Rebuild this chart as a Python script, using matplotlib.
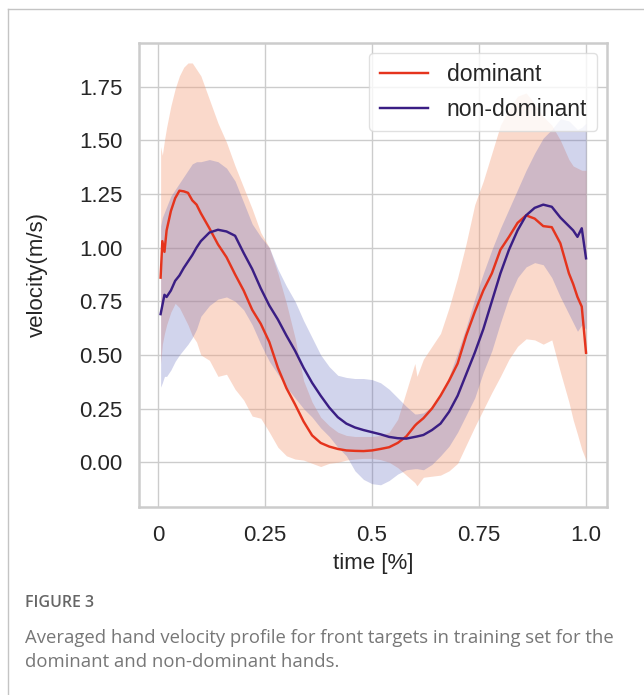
import matplotlib
matplotlib.use("Agg")
import matplotlib.pyplot as plt
from matplotlib.lines import Line2D
import numpy as np

# ---------------- data ----------------
t = [0.006, 0.01, 0.015, 0.02, 0.03, 0.04, 0.05, 0.06, 0.07, 0.08, 0.09, 0.10,
     0.12, 0.14, 0.16, 0.18, 0.20, 0.22, 0.24, 0.26, 0.28, 0.30, 0.32, 0.34,
     0.36, 0.38, 0.40, 0.42, 0.44, 0.46, 0.48, 0.50, 0.52, 0.54, 0.56, 0.58,
     0.60, 0.605, 0.62, 0.64, 0.66, 0.68, 0.70, 0.72, 0.74, 0.76, 0.78, 0.80,
     0.82, 0.84, 0.86, 0.88, 0.90, 0.92, 0.94, 0.96, 0.97, 0.98, 0.99, 1.0]

dom_mean = [0.86, 1.03, 0.98, 1.08, 1.17, 1.23, 1.265, 1.262, 1.255, 1.22, 1.20, 1.16,
            1.09, 1.015, 0.955, 0.875, 0.80, 0.71, 0.645, 0.56, 0.44, 0.345, 0.27, 0.19,
            0.125, 0.09, 0.073, 0.062, 0.055, 0.053, 0.052, 0.055, 0.062, 0.07, 0.09, 0.12,
            0.17, 0.18, 0.205, 0.25, 0.31, 0.38, 0.46, 0.59, 0.70, 0.80, 0.88, 0.99,
            1.05, 1.115, 1.15, 1.135, 1.10, 1.095, 1.02, 0.88, 0.83, 0.77, 0.725, 0.51]

dom_upper = [1.47, 1.43, 1.50, 1.56, 1.66, 1.74, 1.80, 1.84, 1.86, 1.86, 1.83, 1.80,
             1.69, 1.58, 1.49, 1.38, 1.28, 1.18, 1.07, 1.00, 0.88, 0.74, 0.58, 0.38,
             0.28, 0.21, 0.17, 0.14, 0.125, 0.12, 0.12, 0.12, 0.125, 0.14, 0.20, 0.33,
             0.46, 0.40, 0.48, 0.54, 0.60, 0.72, 0.86, 1.02, 1.20, 1.31, 1.44, 1.57,
             1.645, 1.705, 1.72, 1.67, 1.61, 1.57, 1.50, 1.41, 1.38, 1.37, 1.36, 1.36]

dom_lower = [0.46, 0.55, 0.60, 0.64, 0.70, 0.74, 0.72, 0.68, 0.64, 0.59, 0.56, 0.50,
             0.475, 0.40, 0.41, 0.34, 0.29, 0.215, 0.205, 0.14, 0.07, 0.03, 0.015, 0.01,
             -0.005, -0.02, -0.005, 0.0, 0.01, 0.015, 0.018, 0.018, 0.012, 0.0, -0.025, -0.06,
             -0.095, -0.11, -0.07, -0.065, -0.06, -0.04, -0.005, 0.08, 0.165, 0.245, 0.325, 0.40,
             0.48, 0.54, 0.575, 0.57, 0.55, 0.57, 0.42, 0.28, 0.197, 0.13, 0.06, 0.01]

nondom_mean = [0.69, 0.73, 0.78, 0.77, 0.80, 0.845, 0.87, 0.905, 0.935, 0.965, 1.00, 1.03,
               1.07, 1.083, 1.075, 1.055, 0.975, 0.90, 0.81, 0.73, 0.665, 0.59, 0.52, 0.44,
               0.37, 0.31, 0.255, 0.21, 0.18, 0.162, 0.15, 0.14, 0.13, 0.118, 0.112, 0.11,
               0.118, 0.12, 0.127, 0.15, 0.18, 0.235, 0.31, 0.41, 0.51, 0.62, 0.75, 0.88,
               0.99, 1.08, 1.15, 1.185, 1.20, 1.19, 1.14, 1.10, 1.08, 1.05, 1.09, 0.95]

nondom_upper = [1.10, 1.14, 1.165, 1.19, 1.24, 1.27, 1.30, 1.33, 1.36, 1.39, 1.40, 1.40,
                1.41, 1.40, 1.37, 1.31, 1.21, 1.11, 1.05, 1.00, 0.90, 0.82, 0.75, 0.66,
                0.58, 0.50, 0.445, 0.405, 0.395, 0.39, 0.39, 0.385, 0.37, 0.34, 0.30, 0.26,
                0.225, 0.225, 0.23, 0.26, 0.31, 0.40, 0.51, 0.63, 0.76, 0.88, 0.99, 1.09,
                1.18, 1.27, 1.36, 1.44, 1.51, 1.55, 1.60, 1.59, 1.57, 1.55, 1.56, 1.58]

nondom_lower = [0.35, 0.37, 0.40, 0.40, 0.43, 0.47, 0.50, 0.525, 0.55, 0.58, 0.62, 0.68,
                0.73, 0.76, 0.77, 0.75, 0.71, 0.64, 0.55, 0.47, 0.41, 0.35, 0.30, 0.25,
                0.21, 0.16, 0.12, 0.07, 0.03, -0.04, -0.08, -0.10, -0.105, -0.085, -0.055, -0.035,
                -0.03, -0.03, -0.035, -0.01, 0.03, 0.075, 0.14, 0.22, 0.30, 0.42, 0.52, 0.65,
                0.77, 0.86, 0.91, 0.93, 0.92, 0.86, 0.77, 0.69, 0.65, 0.61, 0.64, 0.62]

x_ticks = [0, 0.25, 0.5, 0.75, 1.0]
x_tick_labels = ["0", "0.25", "0.5", "0.75", "1.0"]
y_ticks = [0.0, 0.25, 0.5, 0.75, 1.0, 1.25, 1.5, 1.75]
y_tick_labels = ["0.00", "0.25", "0.50", "0.75", "1.00", "1.25", "1.50", "1.75"]
series_labels = ["dominant", "non-dominant"]

# ---------------- styling ----------------
W, H = 644, 695
plt.rcParams['font.family'] = ['Liberation Sans', 'DejaVu Sans']
fig = plt.figure(figsize=(W / 100, H / 100), dpi=100)
fig.patch.set_facecolor('white')

ax_l, ax_r, ax_t, ax_b = 139, 607, 43, 507
ax = fig.add_axes([ax_l / W, 1 - ax_b / H, (ax_r - ax_l) / W, (ax_b - ax_t) / H])

red = '#e5341d'
purple = '#3a1e84'
red_fill = '#f4a07e'
purple_fill = '#5860b9'

ax.fill_between(t, dom_lower, dom_upper, color=red_fill, alpha=0.4, linewidth=0, zorder=2)
ax.fill_between(t, nondom_lower, nondom_upper, color=purple_fill, alpha=0.27, linewidth=0, zorder=2)
ax.plot(t, dom_mean, color=red, lw=1.75, label=series_labels[0], zorder=3)
ax.plot(t, nondom_mean, color=purple, lw=1.75, label=series_labels[1], zorder=3)

ax.set_xlim(-0.0445, 1.049)
ax.set_ylim(-0.2085, 1.953)
ax.set_xticks(x_ticks)
ax.set_xticklabels(x_tick_labels)
ax.set_yticks(y_ticks)
ax.set_yticklabels(y_tick_labels)
ax.tick_params(axis='both', length=0, labelsize=16, colors='#262626', pad=12)
ax.tick_params(axis='x', pad=13)

ax.grid(True, color='#cccccc', linewidth=1.0, zorder=0)
ax.set_axisbelow(True)
for s in ax.spines.values():
    s.set_color('#cccccc')
    s.set_linewidth(1.8)

ax.set_xlabel('time [%]', fontsize=16, color='#262626', labelpad=5)
ax.set_ylabel('velocity(m/s)', fontsize=16, color='#262626', labelpad=22)

leg = ax.legend(loc='upper right', fontsize=16.6, frameon=True, framealpha=0.8,
                edgecolor='#d9d9d9', fancybox=True, borderaxespad=0.42,
                handlelength=2.1, borderpad=0.45)
leg.get_frame().set_linewidth(1.0)
for txt in leg.get_texts():
    txt.set_color('#262626')

# outer figure border (left and top)
fig.add_artist(Line2D([7.5 / W, 7.5 / W], [0, 1 - 9 / H], transform=fig.transFigure,
                      color='#c4c4c4', lw=1.0))
fig.add_artist(Line2D([7.5 / W, 1], [1 - 9 / H, 1 - 9 / H], transform=fig.transFigure,
                      color='#c4c4c4', lw=1.0))

# caption
cap_font = ['Open Sans', 'DejaVu Sans']
fig.text(25 / W, 1 - 603 / H, 'FIGURE 3', fontsize=11.5, fontweight='semibold',
         color='#666666', family=cap_font, va='center', ha='left')
fig.text(25 / W, 1 - 638 / H,
         'Averaged hand velocity profile for front targets in training set for the',
         fontsize=13.3, color='#777777', family=cap_font, va='center', ha='left')
fig.text(25 / W, 1 - 662 / H, 'dominant and non-dominant hands.',
         fontsize=13.3, color='#777777', family=cap_font, va='center', ha='left')

fig.savefig('out.png', dpi=100, facecolor='white')
